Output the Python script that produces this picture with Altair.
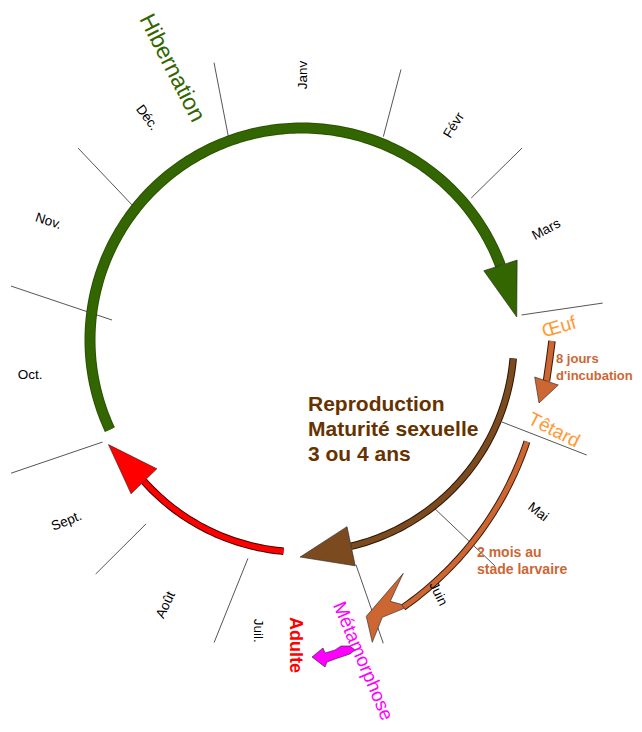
import math
import altair as alt
import pandas as pd

# ---------------- data ----------------
# month labels around the year circle (polar: angle clockwise from top, radius)
month_names = ["Janv", "Févr", "Mars", "Mai", "Juin", "Juil.", "Août", "Sept.", "Oct.", "Nov.", "Déc."]
month_label_angle = [0.2, 35.3, 65.7, 126.1, 151.8, 188.6, 207.2, 232.4, 262.7, 295.1, 325.1]
month_label_radius = [265, 263, 268, 292, 288, 294, 298, 297, 274, 280, 271]
month_label_rotation = [-90, -58, -28, 38, 64, 90, -65, -22, 0, 18, 53]

# month divider strokes (inner / outer end, polar)
divider_inner_angle = [340.0, 21.8, 50.0, 83.5, 112.3, 141.8, 166.5, 193.9, 220.3, 242.9, 276.0, 308.2]
divider_inner_radius = [214, 219, 221, 221, 216, 214, 231, 225, 241, 224, 191, 210]
divider_outer_angle = [342.4, 20.1, 48.9, 83.0, 112.0, 139.5, 165.0, 196.2, 221.4, 245.4, 280.5, 310.6]
divider_outer_radius = [291, 288, 292, 303, 307, 297, 314, 315, 312, 320, 296, 295]

# life-cycle phases drawn on the year circle
phase_names = ["Hibernation", "Reproduction", "Adulte"]
phase_start = [245.0, 95.0, 185.0]
phase_end = [429.4, 166.6, 228.2]
phase_tip = [443.9, 180.5, 241.6]
phase_tip_radius = [216, 217, 220]
phase_color = ["#336600", "#7b4a1e", "#ff0000"]
phase_outline = ["#2a5200", "#2b1606", "#400000"]
phase_width = [9, 5.5, 5.5]
phase_head_half = [17.5, 20, 18]

# larval stage arrow (Têtard -> Métamorphose)
larva_start, larva_end = 108.5, 145.0

# texts
label_texts = ["Hibernation", "Œuf", "Têtard", "Métamorphose"]
label_colors = ["#336600", "#ff9933", "#ff9933", "#ff00ff"]
label_sizes = [23, 19, 19, 19]
label_rot = [63, -16, 27, 67]

block_lines = ["Reproduction", "Maturité sexuelle", "3 ou 4 ans",
               "8 jours", "d'incubation", "2 mois au", "stade larvaire"]
block_colors = ["#663300"] * 3 + ["#cc6633"] * 4
block_sizes = [21, 21, 21, 13, 13, 14, 14]

# ---------------- layout ----------------
CX, CY, R = 302, 340, 212
LCX, LCY, LR = 214, 337, 330


def pol(cx, cy, r, a):
    t = math.radians(a)
    return cx + r * math.sin(t), cy - r * math.cos(t)


def head_path(bx, by, tx, ty, hw):
    dx, dy = tx - bx, ty - by
    L = math.hypot(dx, dy)
    px, py = -dy / L * hw, dx / L * hw
    return f"M{px:.1f},{py:.1f}L{dx:.1f},{dy:.1f}L{-px:.1f},{-py:.1f}Z"


# arcs
arc_rows = []
heads = []
for k, name in enumerate(phase_names):
    a0, a1 = phase_start[k], phase_end[k]
    n = int(abs(a1 - a0)) + 1
    for i in range(n + 1):
        a = a0 + (a1 - a0) * i / n
        x, y = pol(CX, CY, R, a)
        arc_rows.append(dict(arc=name, i=i, x=x, y=y, color=phase_color[k],
                             ocolor=phase_outline[k], w=phase_width[k], ow=phase_width[k] + 2))
    bx, by = pol(CX, CY, R, a1)
    tx, ty = pol(CX, CY, phase_tip_radius[k], phase_tip[k])
    heads.append(dict(x=bx, y=by, path=head_path(bx, by, tx, ty, phase_head_half[k]),
                      color=phase_color[k]))

n = int(larva_end - larva_start) + 1
for i in range(n + 1):
    a = larva_start + (larva_end - larva_start) * i / n
    x, y = pol(LCX, LCY, LR, a)
    arc_rows.append(dict(arc="Larve", i=i, x=x, y=y, color="#cc6633",
                         ocolor="#3a1a08", w=5, ow=7))
lx, ly = pol(LCX, LCY, LR, larva_end)
heads.append(dict(x=lx, y=ly,
                  path="M0,-34L-37,9L-31,35L-21,10L1,1L-2,-3L-13,-6Z",
                  color="#cc6633"))

# incubation arrow (Œuf -> Têtard)
for i, (x, y) in enumerate([(552, 341), (549.5, 360), (546.5, 381)]):
    arc_rows.append(dict(arc="Incubation", i=i, x=x, y=y, color="#cc6633",
                         ocolor="#3a1a08", w=5.5, ow=7.5))
heads.append(dict(x=546.5, y=381, path=head_path(546.5, 381, 539, 403, 12.5), color="#cc6633"))

# metamorphosis curly arrow
heads.append(dict(x=333, y=656,
                  path="M-21,1L-10,-8L-8,-3L2,-6L8,-10L17,-10L22,-6L17,-2L5,2L-6,6L-8,11Z",
                  color="#ff00ff"))

arc_df = pd.DataFrame(arc_rows)
head_df = pd.DataFrame(heads)

div_rows = []
for k in range(len(divider_inner_angle)):
    x1, y1 = pol(CX, CY, divider_inner_radius[k], divider_inner_angle[k])
    x2, y2 = pol(CX, CY, divider_outer_radius[k], divider_outer_angle[k])
    div_rows.append(dict(x=x1, y=y1, x2=x2, y2=y2))
div_df = pd.DataFrame(div_rows)

txt_rows = []
for k, m in enumerate(month_names):
    x, y = pol(CX, CY, month_label_radius[k], month_label_angle[k])
    txt_rows.append(dict(text=m, x=x, y=y, angle=month_label_rotation[k] % 360,
                         size=13.5, color="#000000"))
label_pos = [(172, 68), (559, 327), (554, 430), (363, 661)]
for k, t in enumerate(label_texts):
    txt_rows.append(dict(text=t, x=label_pos[k][0], y=label_pos[k][1], angle=label_rot[k] % 360,
                         size=label_sizes[k], color=label_colors[k]))
txt_df = pd.DataFrame(txt_rows)

adulte_df = pd.DataFrame([dict(text="Adulte", x=295, y=645, angle=90, size=18, color="#ff0000")])

block_pos = [(308, 405), (308, 430), (308, 455), (556, 359), (556, 376), (477, 553), (477, 570)]
block_df = pd.DataFrame([dict(text=t, x=block_pos[k][0], y=block_pos[k][1], size=block_sizes[k],
                              color=block_colors[k]) for k, t in enumerate(block_lines)])

# ---------------- chart ----------------
X = alt.X("x:Q", scale=alt.Scale(domain=[8, 634], nice=False, zero=False), axis=None)
Y = alt.Y("y:Q", scale=alt.Scale(domain=[8, 724], nice=False, zero=False, reverse=True), axis=None)

dividers = alt.Chart(div_df).mark_rule(color="#555555", strokeWidth=1).encode(
    x=X, y=Y, x2="x2:Q", y2="y2:Q")

arc_outline = alt.Chart(arc_df).mark_line(strokeCap="butt", strokeJoin="round").encode(
    x=X, y=Y, detail="arc:N", order="i:Q",
    color=alt.Color("ocolor:N", scale=None),
    strokeWidth=alt.StrokeWidth("ow:Q", scale=None))

arc_fill = alt.Chart(arc_df).mark_line(strokeCap="butt", strokeJoin="round").encode(
    x=X, y=Y, detail="arc:N", order="i:Q",
    color=alt.Color("color:N", scale=None),
    strokeWidth=alt.StrokeWidth("w:Q", scale=None))

arrowheads = alt.Chart(head_df).mark_point(filled=True, opacity=1, stroke="#222222",
                                           strokeWidth=0.6).encode(
    x=X, y=Y, shape=alt.Shape("path:N", scale=None), size=alt.value(4),
    fill=alt.Fill("color:N", scale=None))

texts = alt.Chart(txt_df).mark_text(font="Liberation Sans", align="center", baseline="middle").encode(
    x=X, y=Y, text="text:N", angle=alt.Angle("angle:Q", scale=None),
    size=alt.Size("size:Q", scale=None), color=alt.Color("color:N", scale=None))

adulte = alt.Chart(adulte_df).mark_text(font="Liberation Sans", fontWeight="bold", align="center",
                                        baseline="middle").encode(
    x=X, y=Y, text="text:N", angle=alt.Angle("angle:Q", scale=None),
    size=alt.Size("size:Q", scale=None), color=alt.Color("color:N", scale=None))

blocks = alt.Chart(block_df).mark_text(font="Liberation Sans", fontWeight="bold", align="left",
                                       baseline="middle").encode(
    x=X, y=Y, text="text:N",
    size=alt.Size("size:Q", scale=None), color=alt.Color("color:N", scale=None))

chart = alt.layer(dividers, arc_outline, arc_fill, arrowheads, texts, adulte, blocks).properties(
    width=626, height=716, padding=0, autosize=alt.AutoSizeParams(type="none")
).configure_view(stroke=None)

chart.save("out.html", embed_options={"renderer": "svg", "actions": False})
